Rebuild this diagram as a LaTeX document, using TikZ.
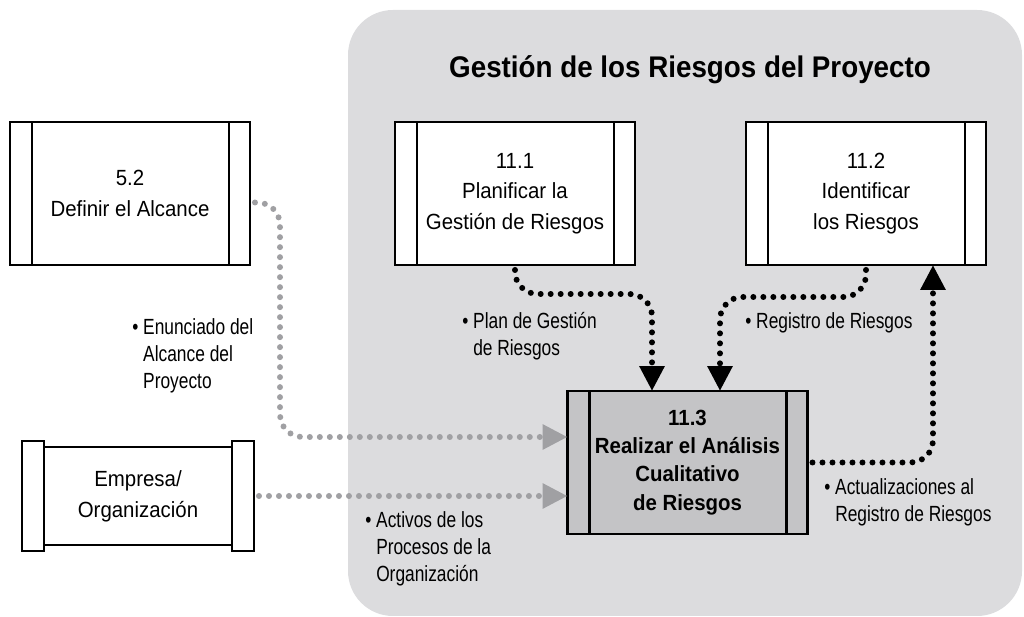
\documentclass[tikz,border=0pt]{standalone}
\usepackage{fontspec}
\setmainfont{Liberation Sans}
\newfontfamily\boxfont{Liberation Sans}[FakeStretch=0.93]
\newfontfamily\labelfont{Liberation Sans}[FakeStretch=0.79]
\usetikzlibrary{positioning,arrows.meta}
\definecolor{zona}{RGB}{220,220,222}
\definecolor{gris}{RGB}{160,160,163}
\definecolor{proc}{RGB}{196,196,198}
\tikzset{
  proceso/.style={draw, line width=1.4pt, fill=white, outer sep=0pt, inner sep=0pt,
    minimum width=4.8cm, minimum height=2.86cm, align=center,
    font=\boxfont\fontsize{12.5}{17.5}\selectfont,
    path picture={
      \draw[line width=1.4pt] ([xshift=0.44cm]path picture bounding box.north west) -- ([xshift=0.44cm]path picture bounding box.south west);
      \draw[line width=1.4pt] ([xshift=-0.42cm]path picture bounding box.north east) -- ([xshift=-0.42cm]path picture bounding box.south east);}},
  barra/.style={draw, line width=1.4pt, fill=white, outer sep=0pt, inner sep=0pt, minimum width=0.44cm, minimum height=2.2cm},
  flujo/.style={line width=0.12cm, line cap=round, dash pattern=on 0pt off 0.2cm, rounded corners=0.45cm,
    -{Triangle[length=0.5cm,width=0.48cm]}},
  flujogris/.style={flujo, gris},
  etiqueta/.style={anchor=north west, inner sep=0pt, align=left, font=\labelfont\fontsize{12.5}{15.4}\selectfont}
}
\begin{document}
\begin{tikzpicture}[x=0.02cm, y=-0.02cm]
  \useasboundingbox (0,0) rectangle (1024,617);
  \fill[zona, rounded corners=0.9cm] (348,10) rectangle (1022,616);

  \node[font=\boxfont\bfseries\fontsize{17}{20}\selectfont] (titulo) at (690,70) {Gestión de los Riesgos del Proyecto};

  % procesos
  \node[proceso] (b52) at (130,193.5) {5.2\\Definir el Alcance};
  \node[proceso] (b111) at (515,193.5) {11.1\\Planificar la\\Gestión de Riesgos};
  \node[proceso] (b112) at (866,193.5) {11.2\\Identificar\\los Riesgos};
  \node[proceso, fill=proc, font=\boxfont\bfseries\fontsize{12.5}{16}\selectfont] (b113) at (687.5,462.5) {11.3\\Realizar el Análisis\\Cualitativo\\de Riesgos};

  \node[draw, line width=1.4pt, fill=white, outer sep=0pt, minimum width=3.76cm, minimum height=1.96cm, align=center,
    font=\boxfont\fontsize{12.5}{17.5}\selectfont] (emp) at (138,496) {Empresa/\\Organización};
  \node[barra, left=0pt of emp] (empL) {};
  \node[barra, right=0pt of emp] (empR) {};

  % flujos
  \draw[flujogris] ([xshift=0.1cm,yshift=-0.18cm]b52.east) -| (280,437) -- ([yshift=0.51cm]b113.west);
  \draw[flujogris] ([xshift=0.1cm]empR.east) -- (empR.east -| b113.west);
  \draw[flujo] ([yshift=-0.1cm]b111.south) |- (600,294) -| ([xshift=-0.71cm]b113.north);
  \draw[flujo] ([yshift=-0.1cm]b112.south) |- (800,297) -| ([xshift=0.65cm]b113.north);
  \draw[flujo] ([xshift=0.1cm]b113.east) -| ([xshift=1.34cm]b112.south);

  % entradas y salidas
  \node[etiqueta] (l1) at (132,318) {\textbullet\ Enunciado del\\\hphantom{\textbullet\ }Alcance del\\\hphantom{\textbullet\ }Proyecto};
  \node[etiqueta] (l2) at (462,312) {\textbullet\ Plan de Gestión\\\hphantom{\textbullet\ }de Riesgos};
  \node[etiqueta] (l3) at (745,312) {\textbullet\ Registro de Riesgos};
  \node[etiqueta] (l4) at (365,511) {\textbullet\ Activos de los\\\hphantom{\textbullet\ }Procesos de la\\\hphantom{\textbullet\ }Organización};
  \node[etiqueta] (l5) at (824,478) {\textbullet\ Actualizaciones al\\\hphantom{\textbullet\ }Registro de Riesgos};
\end{tikzpicture}
\end{document}
